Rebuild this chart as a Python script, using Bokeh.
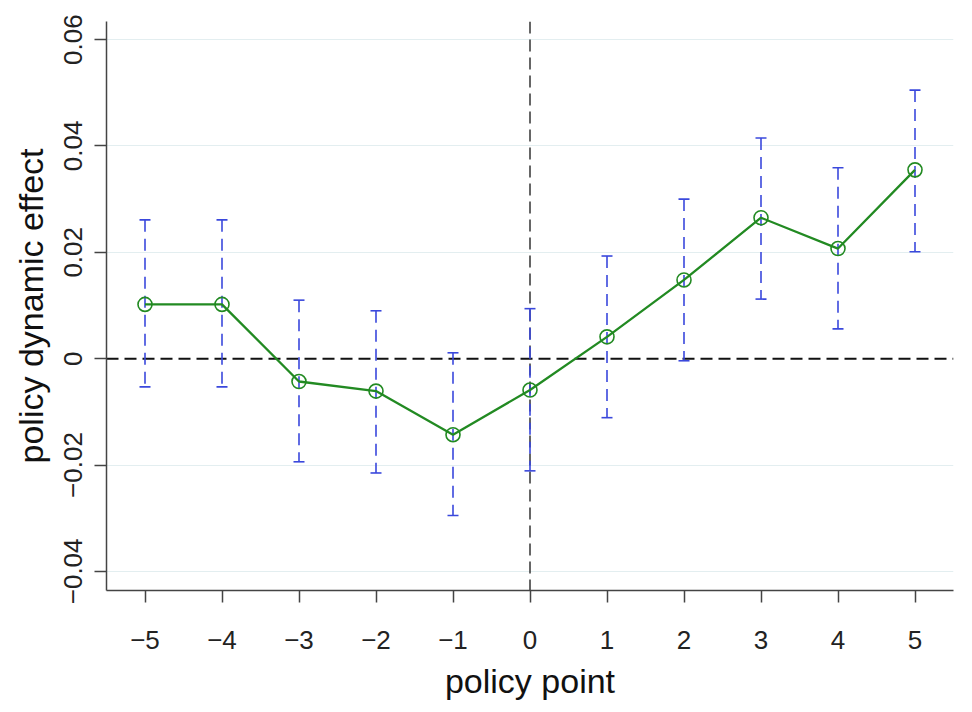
from bokeh.plotting import figure
from bokeh.models import Span, FixedTicker, CustomJSTickFormatter, Range1d, ColumnDataSource
from bokeh.embed import file_html
from bokeh.resources import INLINE

# data
periods = [-5, -4, -3, -2, -1, 0, 1, 2, 3, 4, 5]
coef = [0.0102, 0.0102, -0.0043, -0.0061, -0.0143, -0.0059, 0.0041, 0.0148, 0.0265, 0.0207, 0.0355]
upper = [0.0261, 0.0261, 0.0110, 0.0090, 0.0011, 0.0094, 0.0193, 0.0300, 0.0415, 0.0359, 0.0505]
lower = [-0.0053, -0.0053, -0.0194, -0.0215, -0.0295, -0.0211, -0.0111, -0.0004, 0.0112, 0.0056, 0.0201]
y_ticks = [-0.04, -0.02, 0, 0.02, 0.04, 0.06]
x_ticks = periods

FONT = "Liberation Sans"
BLUE = "#3a48dc"
GREEN = "#228a22"

src = ColumnDataSource(dict(x=periods, y=coef, up=upper, lo=lower))

p = figure(width=972, height=712, output_backend="svg", toolbar_location=None,
           x_range=Range1d(-5.5, 5.5), y_range=Range1d(-0.0436, 0.0634),
           min_border_left=106, min_border_right=19, min_border_top=21, min_border_bottom=122)
p.outline_line_color = None
p.background_fill_color = "white"

p.xgrid.visible = False
p.ygrid.ticker = FixedTicker(ticks=[t for t in y_ticks if t != 0])
p.ygrid.grid_line_color = "#e3eef0"
p.ygrid.grid_line_width = 1

p.xaxis.ticker = FixedTicker(ticks=x_ticks)
p.yaxis.ticker = FixedTicker(ticks=y_ticks)
p.xaxis.formatter = CustomJSTickFormatter(code='return (tick < 0 ? "\\u2212" : "") + Math.abs(tick).toString();')
p.yaxis.formatter = CustomJSTickFormatter(code='if (Math.abs(tick) < 1e-9) { return "0"; } return (tick < 0 ? "\\u2212" : "") + Math.abs(tick).toFixed(2);')

for ax in (p.xaxis, p.yaxis):
    ax.axis_line_color = "#444444"
    ax.axis_line_width = 1.5
    ax.major_tick_line_color = "#444444"
    ax.major_tick_line_width = 1.5
    ax.major_tick_out = 12
    ax.major_tick_in = 0
    ax.minor_tick_line_color = None
    ax.major_label_text_font = FONT
    ax.major_label_text_font_size = "26px"
    ax.major_label_text_color = "#222222"
    ax.axis_label_text_font = FONT
    ax.axis_label_text_font_size = "34px"
    ax.axis_label_text_font_style = "normal"
    ax.axis_label_text_color = "#111111"

p.xaxis.axis_label = "policy point"
p.yaxis.axis_label = "policy dynamic effect"
p.xaxis.major_label_standoff = 28
p.xaxis.axis_label_standoff = 10
p.yaxis.major_label_orientation = "vertical"
p.yaxis.major_label_standoff = 12
p.yaxis.axis_label_standoff = 12

# reference lines
p.add_layout(Span(location=0, dimension="width", line_color="#111111", line_width=2,
                  line_dash="12 6", level="underlay"))
p.add_layout(Span(location=0, dimension="height", line_color="#333333", line_width=1.5,
                  line_dash="12 6", level="underlay"))

# confidence intervals
p.segment(x0="x", y0="up", x1="x", y1="lo", source=src, line_color=BLUE,
          line_width=1.6, line_dash="12 7")
p.scatter(x="x", y="up", source=src, marker="dash", size=11, line_color=BLUE, line_width=1.6)
p.scatter(x="x", y="lo", source=src, marker="dash", size=11, line_color=BLUE, line_width=1.6)

# point estimates
p.line(x="x", y="y", source=src, line_color=GREEN, line_width=2.3)
p.scatter(x="x", y="y", source=src, marker="circle", size=14, fill_color="white",
          fill_alpha=0.0, line_color=GREEN, line_width=1.6)

open("out.html", "w").write(file_html(p, INLINE))
